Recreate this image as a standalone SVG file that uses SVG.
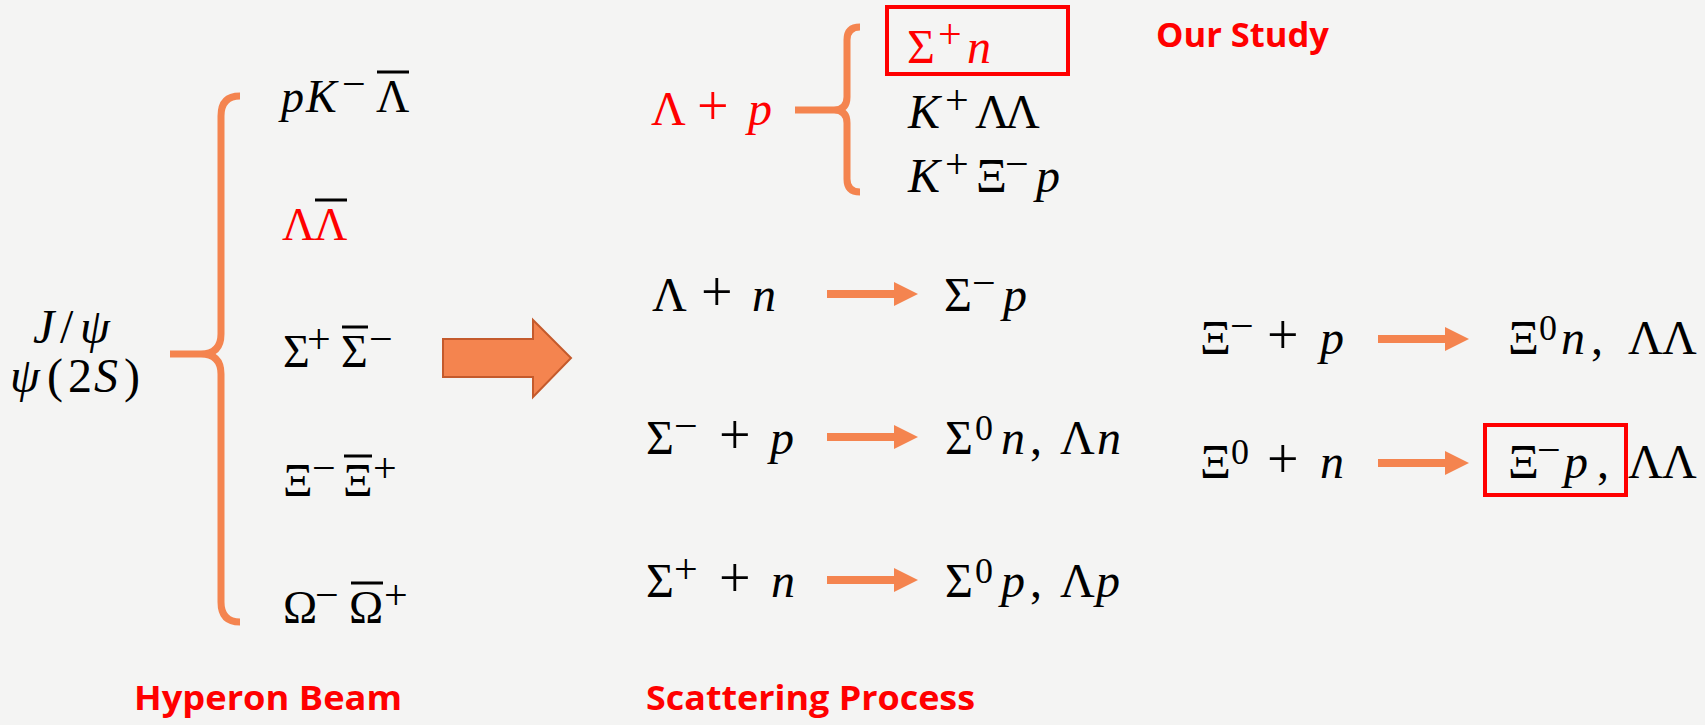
<svg xmlns="http://www.w3.org/2000/svg" width="1705" height="725" viewBox="0 0 1705 725">
<defs>
<style>
.m{font-family:"Liberation Serif","DejaVu Serif",serif;font-size:48px;fill:#000}
.l{font-size:46px}
.i{font-style:italic}
.s{font-size:42px}
.d{font-size:36px}
.op{font-size:56px}
.r{fill:#FF0000}
.lbl{font-family:"Open Sans","Liberation Sans",sans-serif;font-weight:700;font-size:34px;fill:#FF0000}
.br{fill:none;stroke:#F4844F;stroke-width:7;stroke-linecap:butt}
.ar{stroke:#F4844F;stroke-width:8;fill:none}
.ov{stroke:#000;stroke-width:3}
.box{fill:none;stroke:#FF0000;stroke-width:4}
</style>
<marker id="ah" markerUnits="userSpaceOnUse" markerWidth="24" markerHeight="24" refX="2" refY="12" orient="auto">
<path d="M0,0 L24,12 L0,24 z" fill="#F4844F"/>
</marker>
</defs>
<rect width="1705" height="725" fill="#F4F4F3"/>

<g id="source">
<text class="m i" font-size="50" y="343"><tspan x="33">J</tspan><tspan x="60" font-style="normal">/</tspan><tspan x="80">ψ</tspan></text>
<text class="m" font-size="50" y="392"><tspan class="i" x="10">ψ</tspan><tspan x="47">(</tspan><tspan x="68">2</tspan><tspan class="i" x="94">S</tspan><tspan x="124">)</tspan></text>
</g>

<g id="beam-brace">
<path class="br" d="M240,96 Q221,96 221,116 L221,334 Q221,354 201,354 L170,354 M201,354 Q221,354 221,374 L221,602 Q221,622 240,622"/>
</g>

<g id="beam-pKLambda">
<text class="m l" y="112"><tspan class="i" x="281">p</tspan><tspan class="i" x="306">K</tspan><tspan class="s" x="342" y="98">−</tspan><tspan x="376" y="112">Λ</tspan></text>
<line class="ov" x1="377" y1="72" x2="409" y2="72"/>
</g>
<g id="beam-LambdaLambdabar">
<text class="m l r" y="240"><tspan x="282">Λ</tspan><tspan x="314">Λ</tspan></text>
<line class="ov" x1="315" y1="200" x2="347" y2="200" stroke="#FF0000"/>
</g>
<g id="beam-Sigma">
<text class="m l" y="367"><tspan x="283">Σ</tspan><tspan class="s" x="307" y="353">+</tspan><tspan x="341" y="367">Σ</tspan><tspan class="s" x="369" y="353">−</tspan></text>
<line class="ov" x1="342" y1="327" x2="368" y2="327"/>
</g>
<g id="beam-Xi">
<text class="m l" y="496"><tspan x="283">Ξ</tspan><tspan class="s" x="312" y="482">−</tspan><tspan x="343" y="496">Ξ</tspan><tspan class="s" x="373" y="482">+</tspan></text>
<line class="ov" x1="344" y1="456" x2="372" y2="456"/>
</g>
<g id="beam-Omega">
<text class="m l" y="623"><tspan x="283">Ω</tspan><tspan class="s" x="315" y="609">−</tspan><tspan x="349" y="623">Ω</tspan><tspan class="s" x="384" y="609">+</tspan></text>
<line class="ov" x1="351" y1="583" x2="383" y2="583"/>
</g>

<g id="big-arrow">
<polygon points="443,339 533,339 533,320 571,358 533,397 533,377 443,377" fill="#F4844F" stroke="#C45A2C" stroke-width="2"/>
</g>

<g id="lambda-p">
<text class="m r" y="125"><tspan x="651">Λ</tspan><tspan class="op" x="697">+</tspan><tspan class="i" x="748">p</tspan></text>
</g>
<g id="lambda-p-brace">
<path class="br" d="M860,27 Q847,27 847,40 L847,97 Q847,110 834,110 L795,110 M834,110 Q847,110 847,123 L847,179 Q847,192 860,192"/>
</g>
<g id="sigma-n">
<rect class="box" x="887" y="7" width="181" height="67"/>
<text class="m r" font-size="52" y="63"><tspan x="907">Σ</tspan><tspan class="s" x="938" y="48">+</tspan><tspan class="i" x="967" y="63">n</tspan></text>
</g>
<g id="our-study">
<text class="lbl" x="1156" y="47" textLength="173" lengthAdjust="spacingAndGlyphs">Our Study</text>
</g>
<g id="K-LambdaLambda">
<text class="m" y="128"><tspan class="i" x="908">K</tspan><tspan class="s" x="945" y="114">+</tspan><tspan x="975" y="128">Λ</tspan><tspan x="1005">Λ</tspan></text>
</g>
<g id="K-Xi-p">
<text class="m" y="192"><tspan class="i" x="908">K</tspan><tspan class="s" x="945" y="178">+</tspan><tspan x="976" y="192">Ξ</tspan><tspan class="s" x="1005" y="178">−</tspan><tspan class="i" x="1036" y="192">p</tspan></text>
</g>

<g id="lambda-n">
<text class="m" y="311"><tspan x="652">Λ</tspan><tspan class="op" x="701">+</tspan><tspan class="i" x="752">n</tspan></text>
</g>
<g id="sigma-p-out">
<text class="m" y="311"><tspan x="944">Σ</tspan><tspan class="s" x="972" y="297">−</tspan><tspan class="i" x="1003" y="311">p</tspan></text>
</g>
<g id="sigmam-p">
<text class="m" y="454"><tspan x="646">Σ</tspan><tspan class="s" x="674" y="440">−</tspan><tspan class="op" x="719" y="454">+</tspan><tspan class="i" x="770">p</tspan></text>
</g>
<g id="sigma0n-lambdan">
<text class="m" y="454"><tspan x="945">Σ</tspan><tspan class="d" x="975" y="440">0</tspan><tspan class="i" x="1001" y="454">n</tspan><tspan x="1030">,</tspan><tspan x="1060">Λ</tspan><tspan class="i" x="1097">n</tspan></text>
</g>
<g id="sigmap-n">
<text class="m" y="597"><tspan x="646">Σ</tspan><tspan class="s" x="674" y="583">+</tspan><tspan class="op" x="719" y="597">+</tspan><tspan class="i" x="771">n</tspan></text>
</g>
<g id="sigma0p-lambdap">
<text class="m" y="597"><tspan x="945">Σ</tspan><tspan class="d" x="975" y="583">0</tspan><tspan class="i" x="1001" y="597">p</tspan><tspan x="1030">,</tspan><tspan x="1060">Λ</tspan><tspan class="i" x="1096">p</tspan></text>
</g>

<g id="xim-p">
<text class="m" y="354"><tspan x="1200">Ξ</tspan><tspan class="s" x="1230" y="340">−</tspan><tspan class="op" x="1267" y="354">+</tspan><tspan class="i" x="1320">p</tspan></text>
</g>
<g id="xi0n-lambdalambda">
<text class="m" y="354"><tspan x="1508">Ξ</tspan><tspan class="d" x="1539" y="340">0</tspan><tspan class="i" x="1561" y="354">n</tspan><tspan x="1591">,</tspan><tspan x="1628">Λ</tspan><tspan x="1662">Λ</tspan></text>
</g>
<g id="xi0-n">
<text class="m" y="478"><tspan x="1200">Ξ</tspan><tspan class="d" x="1231" y="464">0</tspan><tspan class="op" x="1267" y="478">+</tspan><tspan class="i" x="1320">n</tspan></text>
</g>
<g id="xim-p-out">
<rect class="box" x="1485" y="425" width="141" height="70"/>
<text class="m" y="478"><tspan x="1508">Ξ</tspan><tspan class="s" x="1537" y="464">−</tspan><tspan class="i" x="1564" y="478">p</tspan><tspan x="1597">,</tspan><tspan x="1628">Λ</tspan><tspan x="1662">Λ</tspan></text>
</g>

<g id="connectors">
<line class="ar" x1="827" y1="294" x2="896" y2="294" marker-end="url(#ah)"/>
<line class="ar" x1="827" y1="437" x2="896" y2="437" marker-end="url(#ah)"/>
<line class="ar" x1="827" y1="580" x2="896" y2="580" marker-end="url(#ah)"/>
<line class="ar" x1="1378" y1="339" x2="1447" y2="339" marker-end="url(#ah)"/>
<line class="ar" x1="1378" y1="463" x2="1447" y2="463" marker-end="url(#ah)"/>
</g>

<g id="labels">
<text class="lbl" x="134" y="710" textLength="268" lengthAdjust="spacingAndGlyphs">Hyperon Beam</text>
<text class="lbl" x="646" y="710" textLength="329" lengthAdjust="spacingAndGlyphs">Scattering Process</text>
</g>
</svg>
